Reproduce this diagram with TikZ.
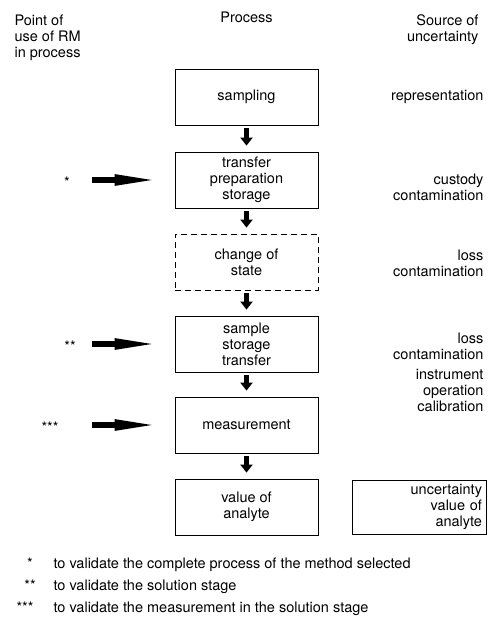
\documentclass[tikz,border=0pt]{standalone}
\usepackage{fontspec}
\setmainfont{TeX Gyre Heros}
\usetikzlibrary{arrows.meta}

\begin{document}
\begin{tikzpicture}[
  x=1pt,y=-1pt,
  every node/.style={font=\fontsize{14.5}{16}\selectfont},
  stage/.style={draw,line width=0.8pt,minimum width=143pt,minimum height=56pt,align=center,inner sep=2pt},
  source/.style={anchor=east,align=right},
  star/.style={inner sep=0pt,yshift=-2pt},
  down/.style={-{Triangle[width=12pt,length=8pt]},line width=4.5pt,shorten <=3pt,shorten >=6pt},
  feed/.style={-{Triangle[width=10pt,length=44pt]},line width=5.5pt,shorten >=16pt},
]
  \useasboundingbox (0,0) rectangle (494,618);
  \def\cx{246.5}
  \node[anchor=north west,align=left] (hpoint) at (11,11) {Point of\\use of RM\\in process};
  \node[anchor=base] (hproc) at (\cx,23) {Process};
  \node[anchor=north east,align=right] (hsrc) at (482,11) {Source of\\uncertainty};

  \node[stage] (sampling) at (\cx,97) {sampling};
  \node[stage] (transfer) at (\cx,180) {transfer\\preparation\\storage};
  \node[stage,dash pattern=on 6pt off 4pt] (change) at (\cx,262) {change of\\state};
  \node[stage] (sample) at (\cx,344) {sample\\storage\\transfer};
  \node[stage] (measure) at (\cx,425) {measurement};
  \node[stage] (value) at (\cx,507) {value of\\analyte};

  \draw[down] (sampling) -- (transfer);
  \draw[down] (transfer) -- (change);
  \draw[down] (change) -- (sample);
  \draw[down] (sample) -- (measure);
  \draw[down] (measure) -- (value);

  \node[source] (srep) at (487,97) {representation};
  \node[source] (scust) at (487,187) {custody\\contamination};
  \node[source] (sloss) at (487,263) {loss\\contamination};
  \node[source] (sloss2) at (487,346) {loss\\contamination};
  \node[source] (sinstr) at (487,390) {instrument\\operation\\calibration};
  \node[draw,line width=0.8pt,minimum height=54pt,text width=126pt,align=right,inner xsep=4pt]
    (sunc) at (419,507) {uncertainty\\value of\\analyte};

  \node[star] (p1) at (67,180) {*};
  \node[star] (p2) at (70,344) {**};
  \node[star] (p3) at (50,425) {***};
  \coordinate (a1) at (92,180);
  \coordinate (a2) at (92,344);
  \coordinate (a3) at (92,425);
  \draw[feed] (a1) -- (transfer);
  \draw[feed] (a2) -- (sample);
  \draw[feed] (a3) -- (measure);

  \node[anchor=base] (n1) at (30,568) {*};
  \node[anchor=base] (n2) at (30,590) {**};
  \node[anchor=base] (n3) at (25,612) {***};
  \node[anchor=base west] (t1) at (50,568) {to validate the complete process of the method selected};
  \node[anchor=base west] (t2) at (50,590) {to validate the solution stage};
  \node[anchor=base west] (t3) at (50,612) {to validate the measurement in the solution stage};
\end{tikzpicture}
\end{document}
